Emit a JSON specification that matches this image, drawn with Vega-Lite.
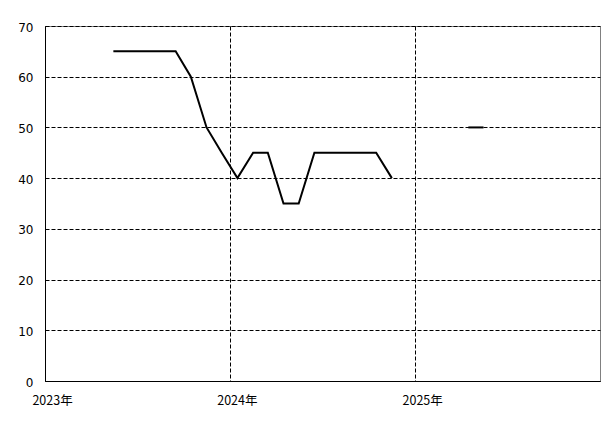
{
  "$schema": "https://vega.github.io/schema/vega-lite/v6.json",
  "width": 555,
  "height": 355,
  "autosize": {"type": "none"},
  "padding": {"left": 45, "top": 26, "right": 15, "bottom": 43},
  "background": "white",
  "config": {
    "view": {"stroke": "#808080", "strokeWidth": 1},
    "axis": {
      "labelFont": "DejaVu Sans",
      "labelFontSize": 12,
      "labelColor": "black",
      "domainColor": "black",
      "domainWidth": 1,
      "ticks": false,
      "gridColor": "black",
      "gridDash": [4, 2],
      "gridWidth": 1,
      "gridOpacity": 1,
      "title": null
    }
  },
  "data": {
    "values": [
      {"date": "2023-05-16", "value": 65, "seg": "a"},
      {"date": "2023-06-16", "value": 65, "seg": "a"},
      {"date": "2023-07-16", "value": 65, "seg": "a"},
      {"date": "2023-08-16", "value": 65, "seg": "a"},
      {"date": "2023-09-16", "value": 65, "seg": "a"},
      {"date": "2023-10-16", "value": 60, "seg": "a"},
      {"date": "2023-11-16", "value": 50, "seg": "a"},
      {"date": "2023-12-16", "value": 45, "seg": "a"},
      {"date": "2024-01-16", "value": 40, "seg": "a"},
      {"date": "2024-02-16", "value": 45, "seg": "a"},
      {"date": "2024-03-16", "value": 45, "seg": "a"},
      {"date": "2024-04-16", "value": 35, "seg": "a"},
      {"date": "2024-05-16", "value": 35, "seg": "a"},
      {"date": "2024-06-16", "value": 45, "seg": "a"},
      {"date": "2024-07-16", "value": 45, "seg": "a"},
      {"date": "2024-08-16", "value": 45, "seg": "a"},
      {"date": "2024-09-16", "value": 45, "seg": "a"},
      {"date": "2024-10-16", "value": 45, "seg": "a"},
      {"date": "2024-11-16", "value": 40, "seg": "a"},
      {"date": "2025-04-16", "value": 50, "seg": "b"},
      {"date": "2025-05-16", "value": 50, "seg": "b"}
    ]
  },
  "mark": {"type": "line", "color": "black", "strokeWidth": 2, "clip": true},
  "encoding": {
    "x": {
      "field": "date",
      "type": "temporal",
      "scale": {
        "type": "utc",
        "domain": [
          {"year": 2023, "month": 1, "date": 1, "utc": true},
          {"year": 2026, "month": 1, "date": 1, "utc": true}
        ],
        "nice": false
      },
      "axis": {
        "values": [
          {"year": 2023, "month": 1, "date": 1, "utc": true},
          {"year": 2024, "month": 1, "date": 1, "utc": true},
          {"year": 2025, "month": 1, "date": 1, "utc": true}
        ],
        "labelExpr": "utcFormat(datum.value, '%Y') + '年'",
        "labelFont": "Noto Sans CJK JP",
        "labelFontSize": 12.5,
        "labelAlign": "center",
        "labelOffset": 7,
        "labelFlush": false,
        "labelPadding": 13,
        "grid": true
      }
    },
    "y": {
      "field": "value",
      "type": "quantitative",
      "scale": {"domain": [0, 70], "nice": false, "zero": true},
      "axis": {
        "values": [0, 10, 20, 30, 40, 50, 60, 70],
        "labelPadding": 12,
        "labelOffset": 1,
        "grid": true
      }
    },
    "detail": {"field": "seg"}
  }
}
